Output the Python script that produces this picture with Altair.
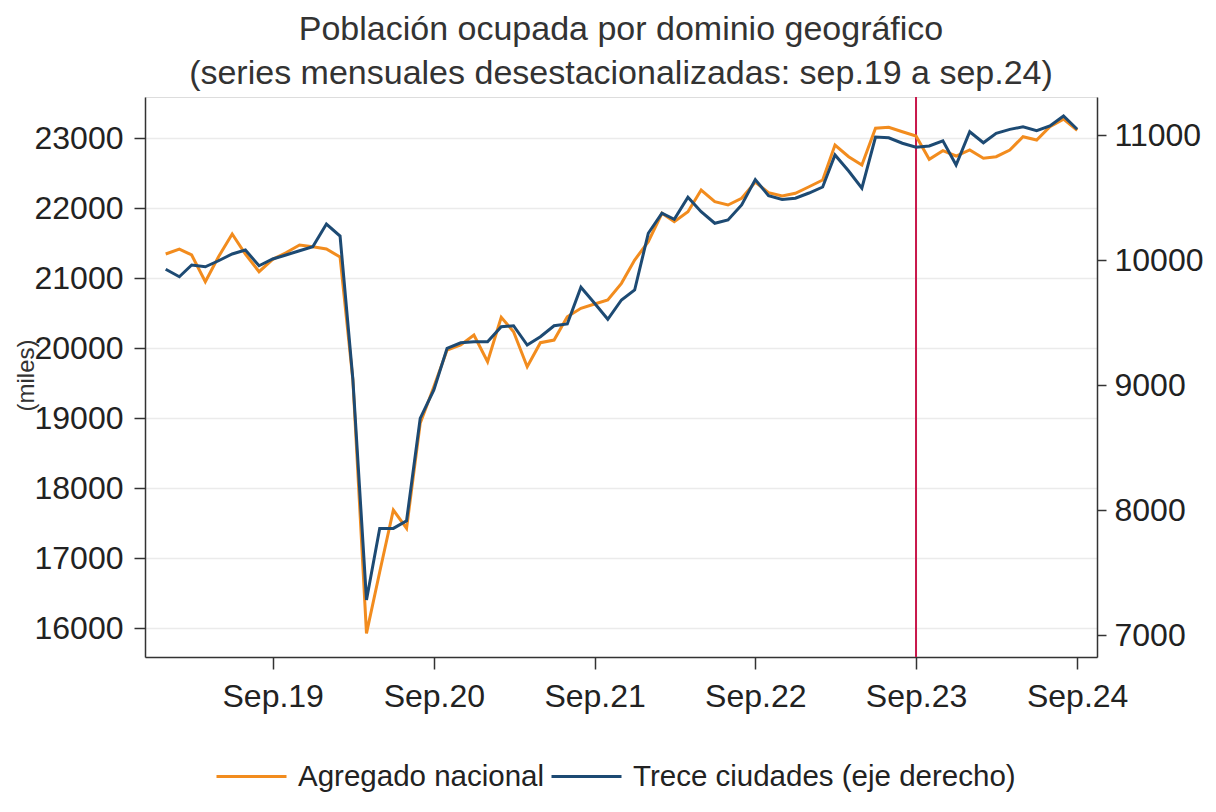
import altair as alt
import pandas as pd

# ---------------- data ----------------
fechas = pd.date_range("2019-01-01", "2024-09-01", freq="MS")

agregado_nacional = [
    21343, 21414, 21329, 20947, 21304, 21629, 21343, 21090, 21267, 21361, 21471, 21447,
    21414, 21300, 19550, 15924, 16800, 17686, 17424, 18924, 19447, 19971, 20043, 20186,
    19804, 20439, 20233, 19733, 20076, 20114, 20447, 20567, 20629, 20686, 20924, 21257,
    21519, 21924, 21804, 21947, 22257, 22090, 22043, 22139, 22370, 22219, 22171, 22210,
    22304, 22400, 22900, 22733, 22614, 23139, 23153, 23090, 23029, 22696, 22819, 22743,
    22829, 22710, 22733, 22829, 23019, 22971, 23161, 23270, 23110,
]

trece_ciudades = [
    9926, 9866, 9960, 9946, 9994, 10048, 10080, 9954, 10008, 10040, 10074, 10106,
    10288, 10192, 9050, 7280, 7853, 7853, 7914, 8733, 8960, 9293, 9338, 9346,
    9346, 9466, 9474, 9320, 9386, 9474, 9488, 9782, 9654, 9526, 9680, 9760,
    10214, 10374, 10326, 10502, 10386, 10294, 10320, 10440, 10643, 10515, 10484, 10494,
    10536, 10584, 10840, 10712, 10574, 10984, 10978, 10934, 10902, 10912, 10954, 10760,
    11026, 10938, 11014, 11045, 11065, 11034, 11072, 11152, 11046,
]

series = ["Agregado nacional", "Trece ciudades (eje derecho)"]
colores = ["#F28C1E", "#1D4A73"]
ticks_izq = [16000, 17000, 18000, 19000, 20000, 21000, 22000, 23000]
ticks_der = [7000, 8000, 9000, 10000, 11000]
anios_sep = [2019, 2020, 2021, 2022, 2023, 2024]
linea_ref = ["2023-09-01"]

df_a = pd.DataFrame({"fecha": fechas, "valor": agregado_nacional, "serie": series[0]})
df_t = pd.DataFrame({"fecha": fechas, "valor": trece_ciudades, "serie": series[1]})
df_r = pd.DataFrame({"fecha": pd.to_datetime(linea_ref)})

FONT = "Liberation Sans, Arial, Helvetica, sans-serif"
AXC = "#333333"
TXT = "#222222"

x_enc = alt.X(
    "fecha:T",
    scale=alt.Scale(domain=[alt.DateTime(year=2018, month=11, date=15),
                            alt.DateTime(year=2024, month=10, date=16)]),
    axis=alt.Axis(values=[alt.DateTime(year=y, month=9, date=1) for y in anios_sep],
                  format="%b.%y", title=None, grid=False, tickSize=12, labelPadding=12,
                  labelFontSize=32, labelColor=TXT, domainColor=AXC, tickColor=AXC,
                  domainWidth=1.5, tickWidth=1.5, labelFlush=False, labelFont=FONT),
)

color_enc = alt.Color(
    "serie:N",
    scale=alt.Scale(domain=series, range=colores),
    legend=alt.Legend(orient="none", legendX=70, legendY=643, direction="horizontal",
                      title=None, symbolType="stroke", symbolSize=4900, symbolStrokeWidth=3,
                      labelFontSize=29.5, labelOffset=10, columnPadding=0, padding=0,
                      labelLimit=600, labelColor=TXT, labelFont=FONT),
)

rule = alt.Chart(df_r).mark_rule(color="#C8174B", strokeWidth=2).encode(x=x_enc)

line_a = alt.Chart(df_a).mark_line(strokeWidth=3).encode(
    x=x_enc,
    y=alt.Y("valor:Q",
            scale=alt.Scale(domain=[15586, 23586], nice=False, zero=False),
            axis=alt.Axis(orient="left", values=ticks_izq, format="d", title="(miles)",
                          titleX=-119, titleY=278, titleAngle=270, titleAlign="center",
                          titleBaseline="middle", titleFontSize=24, titleFontWeight="normal",
                          titleColor=AXC, titleFont=FONT,
                          grid=True, gridColor="#ebebeb", gridWidth=1.5,
                          tickSize=11, labelPadding=11, labelFontSize=32, labelColor=TXT,
                          labelFont=FONT, domainColor=AXC, tickColor=AXC,
                          domainWidth=1.5, tickWidth=1.5)),
    color=color_enc,
)

line_t = alt.Chart(df_t).mark_line(strokeWidth=3).encode(
    x=x_enc,
    y=alt.Y("valor:Q",
            scale=alt.Scale(domain=[6824, 11304], nice=False, zero=False),
            axis=alt.Axis(orient="right", values=ticks_der, format="d", title=None,
                          grid=False, tickSize=9, labelPadding=8, labelFontSize=32,
                          labelColor=TXT, labelFont=FONT, domainColor=AXC, tickColor=AXC,
                          domainWidth=1.5, tickWidth=1.5)),
    color=color_enc,
)

chart = alt.layer(rule, line_a, line_t).resolve_scale(y="independent").properties(
    width=952,
    height=560,
    padding={"left": 137, "top": 89, "right": 111, "bottom": 147},
    autosize=alt.AutoSizeParams(type="none"),
    title=alt.TitleParams(
        text="Población ocupada por dominio geográfico",
        subtitle="(series mensuales desestacionalizadas: sep.19 a sep.24)",
        fontSize=34, subtitleFontSize=34, fontWeight="normal",
        color="#333333", subtitleColor="#333333", anchor="middle",
        offset=5, subtitlePadding=10, font=FONT, subtitleFont=FONT,
    ),
).configure_view(stroke=None).configure(background="white")

chart.save("out.html", embed_options={"renderer": "svg", "actions": False})
